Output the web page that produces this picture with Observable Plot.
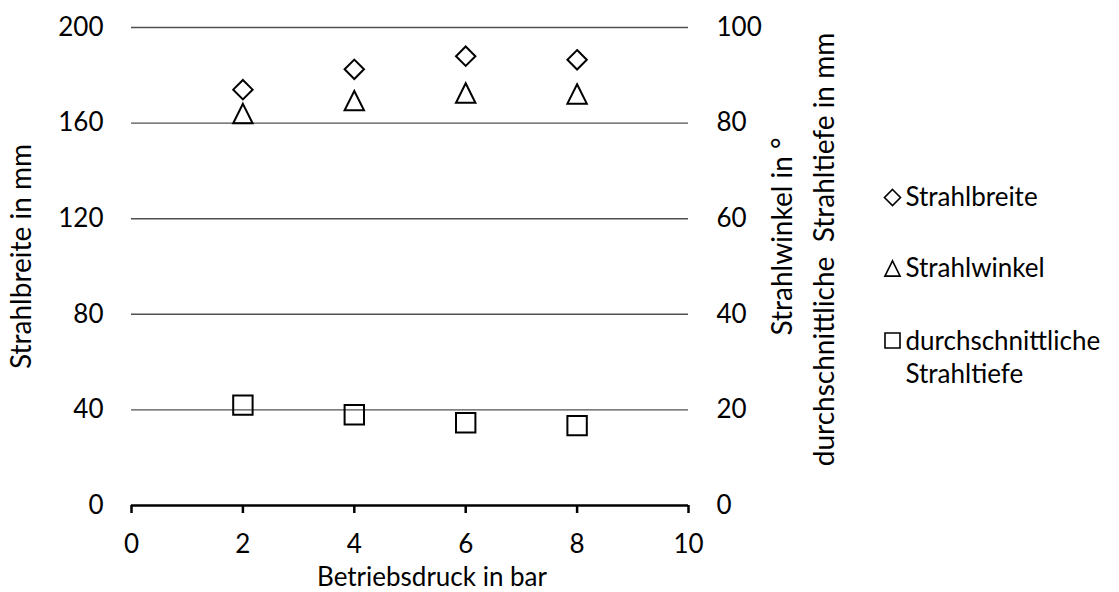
<!DOCTYPE html>
<html>
<head>
<meta charset="utf-8">
<script src="https://cdn.jsdelivr.net/npm/d3@7"></script>
<script src="https://cdn.jsdelivr.net/npm/@observablehq/plot@0.6"></script>
<style>
  html, body { margin: 0; padding: 0; background: #fff; }
  #chart svg { font-family: Lato, "Open Sans", sans-serif; }
</style>
</head>
<body>
<div id="chart"></div>
<script>
// Betriebsdruck (bar)
const pressure = [2, 4, 6, 8];
// Strahlbreite in mm (linke Achse)
const strahlbreite = [174, 182.5, 188, 186.5];
// Strahlwinkel in ° (rechte Achse)
const strahlwinkel = [82, 84.7, 86.3, 86.1];
// durchschnittliche Strahltiefe in mm (rechte Achse)
const strahltiefe = [21, 19, 17.3, 16.7];

const xTicks = [0, 2, 4, 6, 8, 10];
const leftTicks = [0, 40, 80, 120, 160, 200];
const gridTicks = [40, 80, 120, 160, 200];
const rightFactor = 2; // rechte Achse 0–100 auf linke Achse 0–200

const seriesNames = ["Strahlbreite", "Strahlwinkel", "durchschnittliche", "Strahltiefe"];

// Markersymbole (Mittelpunkt der Box = Datenpunkt)
const diamondSym = {
  draw(ctx, size) {
    const r = Math.sqrt(size / Math.PI);
    ctx.moveTo(0, -r); ctx.lineTo(r, 0); ctx.lineTo(0, r); ctx.lineTo(-r, 0); ctx.closePath();
  }
};
const triangleSym = {
  draw(ctx, size) {
    const r = Math.sqrt(size / Math.PI);
    ctx.moveTo(0, -r); ctx.lineTo(r, r); ctx.lineTo(-r, r); ctx.closePath();
  }
};
const squareSym = {
  draw(ctx, size) {
    const r = Math.sqrt(size / Math.PI);
    ctx.rect(-r, -r, 2 * r, 2 * r);
  }
};

const breiteData = pressure.map((p, i) => ({x: p, y: strahlbreite[i]}));
const winkelData = pressure.map((p, i) => ({x: p, y: strahlwinkel[i] * rightFactor}));
const tiefeData = pressure.map((p, i) => ({x: p, y: strahltiefe[i] * rightFactor}));

const fs = 26;
const titleFs = 28;
const markerStyle = {fill: "none", stroke: "#000", strokeWidth: 2, r: 9.7};
const legendSymbol = {frameAnchor: "right", dx: 204, fill: "none", stroke: "#000", strokeWidth: 1.6};
const legendText = {frameAnchor: "right", dx: 217, textAnchor: "start", lineAnchor: "middle", fontSize: fs};

const chart = Plot.plot({
  width: 1119,
  height: 592,
  marginLeft: 131,
  marginRight: 431,
  marginTop: 27,
  marginBottom: 87,
  style: {fontFamily: "Lato, 'Open Sans', sans-serif", fontSize: fs + "px", color: "#000", background: "#fff"},
  x: {domain: [0, 10]},
  y: {domain: [0, 200]},
  marks: [
    Plot.ruleY(gridTicks, {stroke: "#505050", strokeWidth: 1.4}),
    Plot.ruleY([0], {stroke: "#000", strokeWidth: 2.7}),
    Plot.axisX({ticks: xTicks, tickSize: 8, tickPadding: 21, strokeWidth: 2.5, label: null, fontSize: fs}),
    Plot.axisY({ticks: leftTicks, anchor: "left", tickSize: 0, tickPadding: 28, label: null, fontSize: fs}),
    Plot.axisY({ticks: leftTicks, anchor: "right", tickSize: 0, tickPadding: 28, label: null, fontSize: fs,
      tickFormat: d => d / rightFactor}),

    // Achsentitel
    Plot.text(["Betriebsdruck in bar"], {frameAnchor: "bottom", dx: 22, dy: 72, fontSize: fs, lineAnchor: "middle"}),
    Plot.text(["Strahlbreite in mm"], {frameAnchor: "left", textAnchor: "middle", rotate: -90, dx: -109, dy: -10, fontSize: titleFs}),
    Plot.text(["Strahlwinkel in °"], {frameAnchor: "right", textAnchor: "middle", rotate: -90, dx: 95, dy: -30, fontSize: titleFs}),
    Plot.text(["durchschnittliche  Strahltiefe in mm"], {frameAnchor: "right", textAnchor: "middle", rotate: -90, dx: 137, dy: -17, fontSize: titleFs}),

    // Datenpunkte
    Plot.dot(breiteData, {x: "x", y: "y", symbol: diamondSym, ...markerStyle}),
    Plot.dot(winkelData, {x: "x", y: "y", symbol: triangleSym, ...markerStyle}),
    Plot.dot(tiefeData, {x: "x", y: "y", symbol: squareSym, ...markerStyle}),

    // Legende
    Plot.dot([0], {...legendSymbol, dy: -69, symbol: diamondSym, r: 8}),
    Plot.dot([0], {...legendSymbol, dy: 2, symbol: triangleSym, r: 7.6}),
    Plot.dot([0], {...legendSymbol, dy: 74, symbol: squareSym, r: 7.5}),
    Plot.text([seriesNames[0]], {...legendText, dy: -69}),
    Plot.text([seriesNames[1]], {...legendText, dy: 2}),
    Plot.text([seriesNames[2]], {...legendText, dy: 75}),
    Plot.text([seriesNames[3]], {...legendText, dy: 108})
  ]
});

document.getElementById("chart").append(chart);
</script>
</body>
</html>
